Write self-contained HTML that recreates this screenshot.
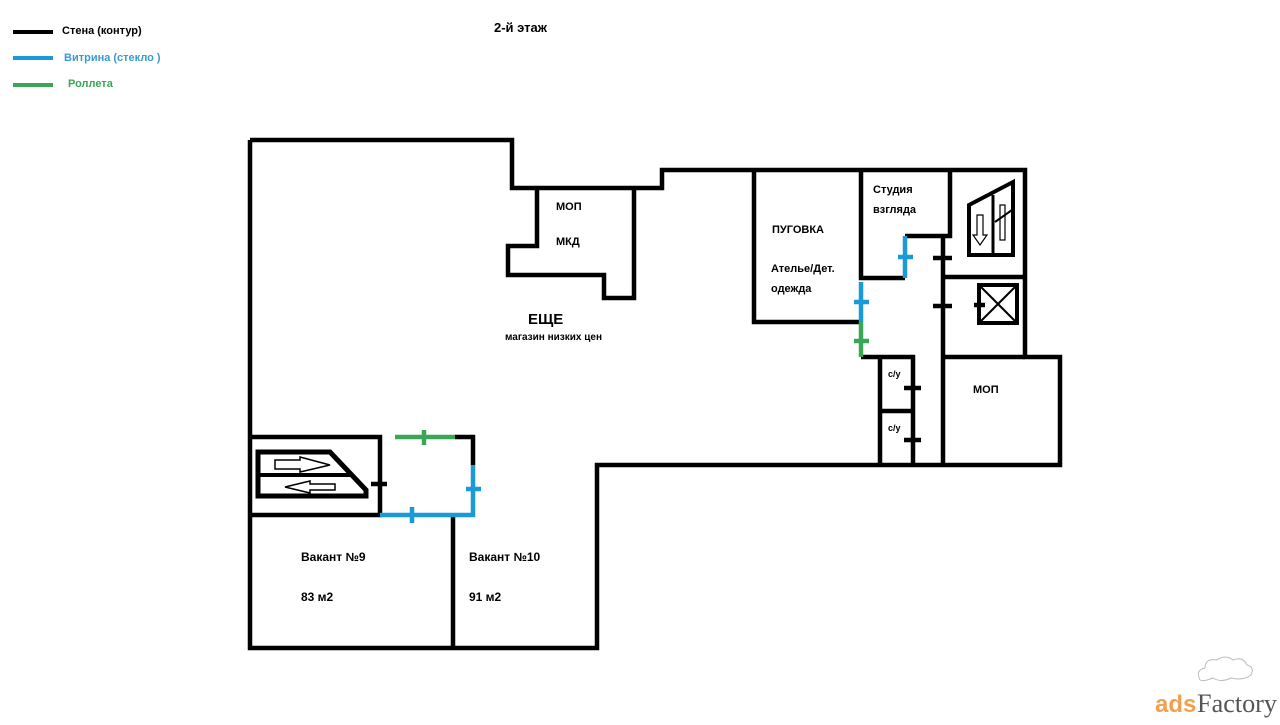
<!DOCTYPE html>
<html><head><meta charset="utf-8"><style>
html,body{margin:0;padding:0;background:#fff;}
svg text{font-family:"Liberation Sans","DejaVu Sans",sans-serif;font-weight:bold;}
</style></head><body>
<svg width="1280" height="720" viewBox="0 0 1280 720" xmlns="http://www.w3.org/2000/svg">
<rect width="1280" height="720" fill="#fff"/>
<line x1="13" y1="32" x2="53" y2="32" stroke="#000" stroke-width="4"/>
<text x="62" y="34" font-size="11" fill="#000">Стена (контур)</text>
<line x1="13" y1="58" x2="53" y2="58" stroke="#1a9bd7" stroke-width="4"/>
<text x="64" y="61" font-size="11" fill="#3a9ad0">Витрина (стекло )</text>
<line x1="13" y1="85" x2="53" y2="85" stroke="#3aa656" stroke-width="4"/>
<text x="68" y="87" font-size="11" fill="#3aa656">Роллета</text>
<text x="494" y="32" font-size="13" fill="#000">2-й этаж</text>

<g fill="none" stroke="#000" stroke-width="4.5" stroke-linejoin="miter">
<polyline points="250,140 512,140 512,188 662,188 662,170 1025,170 1025,357 1060,357 1060,465 597,465 597,648 250,648 250,140"/>
<polyline points="537,188 537,246 508,246 508,275 604,275 604,298 634,298 634,188"/>
<polyline points="754,170 754,322 861,322"/>
<polyline points="861,170 861,278 905,278"/>
<polyline points="905,236 950,236 950,170"/>
<line x1="943" y1="236" x2="943" y2="465"/>
<line x1="943" y1="277" x2="1025" y2="277"/>
<line x1="943" y1="357" x2="1025" y2="357"/>
<polyline points="861,357 913,357 913,465"/>
<line x1="880" y1="357" x2="880" y2="465"/>
<line x1="880" y1="411" x2="913" y2="411"/>
<polyline points="250,437 380,437 380,515 250,515"/>
<polyline points="455,437 473,437 473,465"/>
<line x1="453" y1="515" x2="453" y2="648"/>
<line x1="933" y1="258" x2="952" y2="258"/>
<line x1="933" y1="306" x2="952" y2="306"/>
<line x1="904" y1="388" x2="921" y2="388"/>
<line x1="904" y1="440" x2="921" y2="440"/>
<line x1="371" y1="484" x2="387" y2="484"/>
<line x1="974" y1="305" x2="985" y2="305"/>
</g>
<g stroke="#1a9bd7" stroke-width="4.5" fill="none">
<line x1="905" y1="236" x2="905" y2="278"/>
<line x1="898" y1="257" x2="913" y2="257"/>
<line x1="861" y1="282" x2="861" y2="322"/>
<line x1="854" y1="302" x2="869" y2="302"/>
<polyline points="380,515 473,515 473,465"/>
<line x1="412" y1="507" x2="412" y2="523"/>
<line x1="466" y1="489" x2="481" y2="489"/>
</g>
<g stroke="#3aa656" stroke-width="4.5" fill="none">
<line x1="861" y1="322" x2="861" y2="357"/>
<line x1="854" y1="341" x2="869" y2="341"/>
<line x1="395" y1="437" x2="455" y2="437"/>
<line x1="424" y1="430" x2="424" y2="445"/>
</g>
<g stroke="#000" fill="none">
<polygon points="258,452 330,452 366,490 366,496 258,496" stroke-width="5"/>
<line x1="258" y1="475" x2="350" y2="475" stroke-width="4"/>
<polygon points="275,460 300,460 300,457 330,465 300,472 300,469 275,469" stroke-width="1.5"/>
<polygon points="335,484 310,484 310,481 285,487 310,493 310,490 335,490" stroke-width="1.5"/>
</g>
<g stroke="#000" fill="none">
<polygon points="969,205 1013,182 1013,255 969,255" stroke-width="4"/>
<line x1="993" y1="195" x2="993" y2="255" stroke-width="3"/>
<polygon points="977,215 983,215 983,235 987,235 980,245 973,235 977,235" stroke-width="1.2"/>
<rect x="1000" y="205" width="5" height="35" stroke-width="1.2"/>
<line x1="995" y1="222" x2="1012" y2="210" stroke-width="2"/>
<rect x="979" y="285" width="38" height="38" stroke-width="4"/>
<line x1="981" y1="287" x2="1015" y2="321" stroke-width="2"/>
<line x1="1015" y1="287" x2="981" y2="321" stroke-width="2"/>
</g>
<g fill="#000">
<text x="556" y="210" font-size="11">МОП</text>
<text x="556" y="245" font-size="11">МКД</text>
<text x="528" y="324" font-size="15">ЕЩЕ</text>
<text x="505" y="340" font-size="10">магазин низких цен</text>
<text x="772" y="233" font-size="11">ПУГОВКА</text>
<text x="771" y="272" font-size="11">Ателье/Дет.</text>
<text x="771" y="292" font-size="11">одежда</text>
<text x="873" y="193" font-size="11">Студия</text>
<text x="873" y="213" font-size="11">взгляда</text>
<text x="888" y="377" font-size="9">с/у</text>
<text x="888" y="431" font-size="9">с/у</text>
<text x="973" y="393" font-size="11">МОП</text>
<text x="301" y="561" font-size="12">Вакант №9</text>
<text x="301" y="601" font-size="12">83 м2</text>
<text x="469" y="561" font-size="12">Вакант №10</text>
<text x="469" y="601" font-size="12">91 м2</text>
</g>
<path d="M1200,680 q-5,-10 5,-12 q0,-10 12,-8 q8,-6 16,0 q10,-4 14,5 q8,2 4,10 q-8,6 -20,3 q-10,5 -18,0 q-10,4 -13,2" fill="none" stroke="#bbb" stroke-width="1"/>
<text x="1155" y="712" font-size="24" fill="#f0a050" style="font-weight:bold">ads</text>
<text x="1197" y="712" font-size="26" fill="#555" font-family="Liberation Serif,serif" style="font-family:'Liberation Serif',serif;font-weight:normal" textLength="80" lengthAdjust="spacingAndGlyphs">Factory</text>
</svg>
</body></html>
